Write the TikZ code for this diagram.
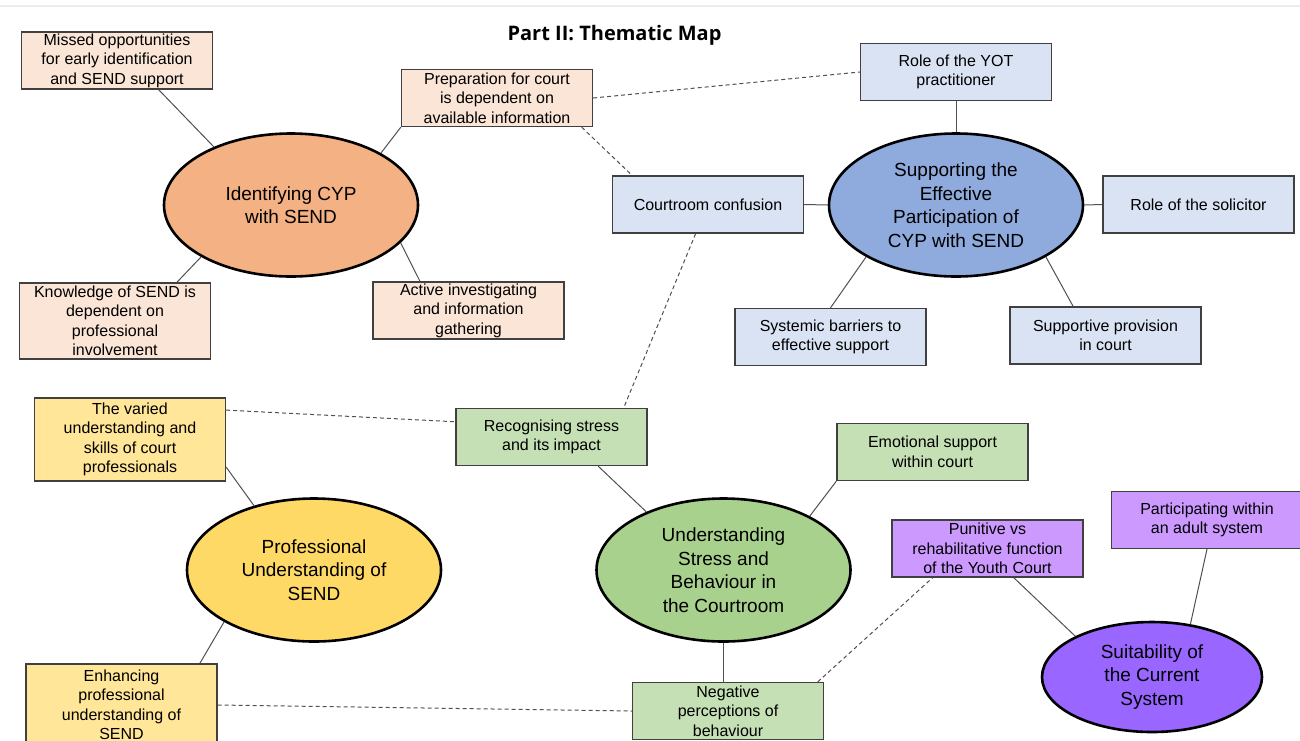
\documentclass[tikz,border=0pt]{standalone}
\usepackage{fontspec}
\setmainfont{Liberation Sans}
\newfontfamily\titlefont{Open Sans}
\usepackage{tikz}
\usetikzlibrary{shapes.geometric}
\definecolor{orangeDark}{HTML}{F4B183}
\definecolor{orangeLight}{HTML}{FBE5D6}
\definecolor{blueDark}{HTML}{8FAADC}
\definecolor{blueLight}{HTML}{DAE3F3}
\definecolor{yellowDark}{HTML}{FFD966}
\definecolor{yellowLight}{HTML}{FFE699}
\definecolor{greenDark}{HTML}{A9D18E}
\definecolor{greenLight}{HTML}{C5E0B4}
\definecolor{purpleDark}{HTML}{9966FF}
\definecolor{purpleLight}{HTML}{CC99FF}
\definecolor{boxline}{HTML}{404040}
\definecolor{linkgray}{HTML}{505050}

\tikzset{
  theme/.style={ellipse, draw=black, line width=2.6pt, minimum width=254pt, minimum height=143pt,
    inner sep=0pt, align=center, font=\fontsize{19}{23.5}\selectfont},
  subbox/.style={rectangle, draw=boxline, line width=1.3pt, minimum width=191pt, minimum height=57pt,
    inner sep=0pt, align=center, font=\fontsize{16}{19.5}\selectfont},
  link/.style={draw=linkgray, line width=1pt},
  crosslink/.style={link, dash pattern=on 4pt off 3pt},
}

\begin{document}
\begin{tikzpicture}[x=1pt, y=-1pt]
  \useasboundingbox (0,0) rectangle (1300,740);
  \clip (0,0) rectangle (1300,740);
  \fill[white] (0,0) rectangle (1300,740);
  \draw[line width=2pt, draw=black!7] (0,6) -- (1300,6);

  \node[anchor=base] (title) at (614.5,40.7) {\titlefont\bfseries\fontsize{20}{24}\selectfont Part II: Thematic Map};

  % themes
  \node[theme, fill=orangeDark] (cyp) at (291,205) {Identifying CYP\\with SEND};
  \node[theme, fill=blueDark] (participation) at (956,205) {Supporting the\\Effective\\Participation of\\CYP with SEND};
  \node[theme, fill=yellowDark] (profund) at (314,570) {Professional\\Understanding of\\SEND};
  \node[theme, fill=greenDark] (stress) at (723.5,570) {Understanding\\Stress and\\Behaviour in\\the Courtroom};
  \node[theme, fill=purpleDark, minimum width=220pt, minimum height=110pt] (suitability) at (1152,677) {Suitability of\\the Current\\System};

  % subthemes
  \node[subbox, fill=orangeLight] (missed) at (117,60.5) {Missed opportunities\\for early identification\\and SEND support};
  \node[subbox, fill=orangeLight] (prep) at (497,98) {Preparation for court\\is dependent on\\available information};
  \node[subbox, fill=orangeLight, minimum height=76pt] (knowledge) at (115,321) {Knowledge of SEND is\\dependent on\\professional\\involvement};
  \node[subbox, fill=orangeLight] (active) at (468.5,310.5) {Active investigating\\and information\\gathering};
  \node[subbox, fill=blueLight] (confusion) at (708,204.5) {Courtroom confusion};
  \node[subbox, fill=blueLight] (yot) at (956,72) {Role of the YOT\\practitioner};
  \node[subbox, fill=blueLight] (solicitor) at (1198.5,204.5) {Role of the solicitor};
  \node[subbox, fill=blueLight] (barriers) at (830.5,337) {Systemic barriers to\\effective support};
  \node[subbox, fill=blueLight] (provision) at (1105.5,335.5) {Supportive provision\\in court};
  \node[subbox, fill=yellowLight, minimum height=83pt] (varied) at (130,439.5) {The varied\\understanding and\\skills of court\\professionals};
  \node[subbox, fill=yellowLight, minimum height=82pt] (enhancing) at (121.5,705) {Enhancing\\professional\\understanding of\\SEND};
  \node[subbox, fill=greenLight] (recognising) at (551.5,437) {Recognising stress\\and its impact};
  \node[subbox, fill=greenLight] (emotional) at (932.5,452) {Emotional support\\within court};
  \node[subbox, fill=greenLight] (negative) at (728,711) {Negative\\perceptions of\\behaviour};
  \node[subbox, fill=purpleLight] (punitive) at (987.5,548.5) {Punitive vs\\rehabilitative function\\of the Youth Court};
  \node[subbox, fill=purpleLight] (adult) at (1207,520) {Participating within\\an adult system};

  % links within a theme
  \draw[link] (missed.-35) -- (cyp.143);
  \draw[link] (prep.south west) -- (cyp.30);
  \draw[link] (knowledge.32) -- (cyp.-150);
  \draw[link] (active.149) -- (cyp.-19);
  \draw[link] (confusion.east) -- (participation.west);
  \draw[link] (yot.south) -- (participation.north);
  \draw[link] (solicitor.west) -- (participation.east);
  \draw[link] (barriers.north) -- (participation.-150);
  \draw[link] (provision.138) -- (participation.-30);
  \draw[link] (varied.-16) -- (profund.133);
  \draw[link] (enhancing.28) -- (profund.-150);
  \draw[link] (recognising.-32) -- (stress.143);
  \draw[link] (emotional.south west) -- (stress.32);
  \draw[link] (stress.south) -- (stress.south |- negative.north);
  \draw[link] (punitive.-48) -- (suitability.152);
  \draw[link] (adult.south) -- (suitability.54);

  % links across themes
  \draw[crosslink] (prep.east) -- (yot.west);
  \draw[crosslink] (prep.-19) -- (confusion.159);
  \draw[crosslink] (confusion.-113) -- (recognising.22);
  \draw[crosslink] (varied.17) -- (recognising.171);
  \draw[crosslink] (enhancing.east) -- (negative.west);
  \draw[crosslink] (negative.18) -- (punitive.-152);
\end{tikzpicture}
\end{document}
